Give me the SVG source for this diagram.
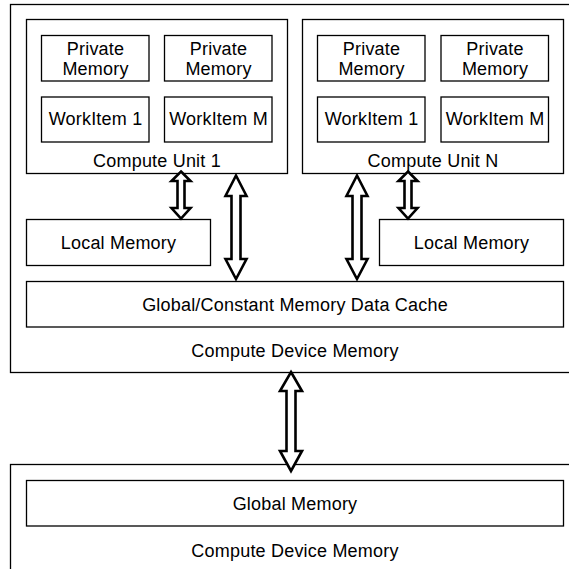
<svg xmlns="http://www.w3.org/2000/svg" width="569" height="569" viewBox="0 0 569 569">
  <style>
    .box { fill: #fff; stroke: #000; stroke-width: 1.3; }
    .frame { fill: none; stroke: #000; stroke-width: 1.3; }
    .lbl { font-family: "Liberation Sans", Arial, Helvetica, sans-serif; font-size: 18px; letter-spacing: 0.2px; fill: #000; text-anchor: middle; }
    .arrow { fill: #fff; stroke: #000; stroke-width: 2.6; stroke-linejoin: miter; stroke-miterlimit: 10; }
  </style>
  <rect width="569" height="569" fill="#fff"/>

  <!-- compute device (top), open to the right -->
  <g id="compute-device">
    <rect class="frame" x="10.5" y="4.5" width="570" height="368"/>
    <text class="lbl" x="295" y="357">Compute Device Memory</text>
  </g>

  <!-- compute unit 1 -->
  <g id="compute-unit-1">
    <rect class="box" x="26.5" y="19.5" width="261" height="154"/>
    <text class="lbl" x="157" y="167">Compute Unit 1</text>
  </g>
  <g id="cu1-private-1">
    <rect class="box" x="41.5" y="35.5" width="107.5" height="45.5"/>
    <text class="lbl" x="95.5" y="54.5">Private</text>
    <text class="lbl" x="95.5" y="75">Memory</text>
  </g>
  <g id="cu1-private-m">
    <rect class="box" x="164.5" y="35.5" width="107.5" height="45.5"/>
    <text class="lbl" x="218.5" y="54.5">Private</text>
    <text class="lbl" x="218.5" y="75">Memory</text>
  </g>
  <g id="cu1-workitem-1">
    <rect class="box" x="41.5" y="97" width="107.5" height="45"/>
    <text class="lbl" x="95.5" y="125">WorkItem 1</text>
  </g>
  <g id="cu1-workitem-m">
    <rect class="box" x="164.5" y="97" width="107.5" height="45"/>
    <text class="lbl" x="218.5" y="125">WorkItem M</text>
  </g>

  <!-- compute unit N -->
  <g id="compute-unit-n">
    <rect class="box" x="302.5" y="19.5" width="261" height="154"/>
    <text class="lbl" x="433" y="167">Compute Unit N</text>
  </g>
  <g id="cun-private-1">
    <rect class="box" x="317.5" y="35.5" width="107.5" height="45.5"/>
    <text class="lbl" x="371.5" y="54.5">Private</text>
    <text class="lbl" x="371.5" y="75">Memory</text>
  </g>
  <g id="cun-private-m">
    <rect class="box" x="441" y="35.5" width="107.5" height="45.5"/>
    <text class="lbl" x="495" y="54.5">Private</text>
    <text class="lbl" x="495" y="75">Memory</text>
  </g>
  <g id="cun-workitem-1">
    <rect class="box" x="317.5" y="97" width="107.5" height="45"/>
    <text class="lbl" x="371.5" y="125">WorkItem 1</text>
  </g>
  <g id="cun-workitem-m">
    <rect class="box" x="441" y="97" width="107.5" height="45"/>
    <text class="lbl" x="495" y="125">WorkItem M</text>
  </g>

  <!-- local memories -->
  <g id="local-memory-1">
    <rect class="box" x="26.5" y="219.5" width="184" height="46"/>
    <text class="lbl" x="118.5" y="249">Local Memory</text>
  </g>
  <g id="local-memory-n">
    <rect class="box" x="379.5" y="219.5" width="184" height="46"/>
    <text class="lbl" x="471.5" y="249">Local Memory</text>
  </g>

  <!-- global / constant cache -->
  <g id="data-cache">
    <rect class="box" x="26.5" y="281.5" width="537" height="45.5"/>
    <text class="lbl" x="295" y="310.5">Global/Constant Memory Data Cache</text>
  </g>

  <!-- host-side compute device memory (bottom), open to the right and below -->
  <g id="device-memory">
    <rect class="frame" x="10.5" y="464.5" width="570" height="120"/>
    <text class="lbl" x="295" y="556.5">Compute Device Memory</text>
  </g>
  <g id="global-memory">
    <rect class="box" x="26.5" y="480.5" width="537" height="45.5"/>
    <text class="lbl" x="295" y="509.5">Global Memory</text>
  </g>

  <!-- hollow double-headed arrows -->
  <g id="connectors">
    <!-- CU1 <-> local memory -->
    <path class="arrow" d="M181,171.5 L190.5,181 L184.5,181 L184.5,208 L190.5,208 L181,218.5 L171.5,208 L177.5,208 L177.5,181 L171.5,181 Z"/>
    <!-- CU1 <-> data cache -->
    <path class="arrow" d="M236,175.5 L246.5,196 L240.5,196 L240.5,259 L246.5,259 L236,279 L225.5,259 L231.5,259 L231.5,196 L225.5,196 Z"/>
    <!-- CUN <-> data cache -->
    <path class="arrow" d="M357,175.5 L367.5,196 L361.5,196 L361.5,259 L367.5,259 L357,279 L346.5,259 L352.5,259 L352.5,196 L346.5,196 Z"/>
    <!-- CUN <-> local memory -->
    <path class="arrow" d="M408,171.5 L417.5,181 L411.5,181 L411.5,208 L417.5,208 L408,218.5 L398.5,208 L404.5,208 L404.5,181 L398.5,181 Z"/>
    <!-- device <-> global memory -->
    <path class="arrow" d="M291,372 L302,391 L295.5,391 L295.5,451 L302,451 L291,471 L280,451 L286.5,451 L286.5,391 L280,391 Z"/>
  </g>
</svg>
